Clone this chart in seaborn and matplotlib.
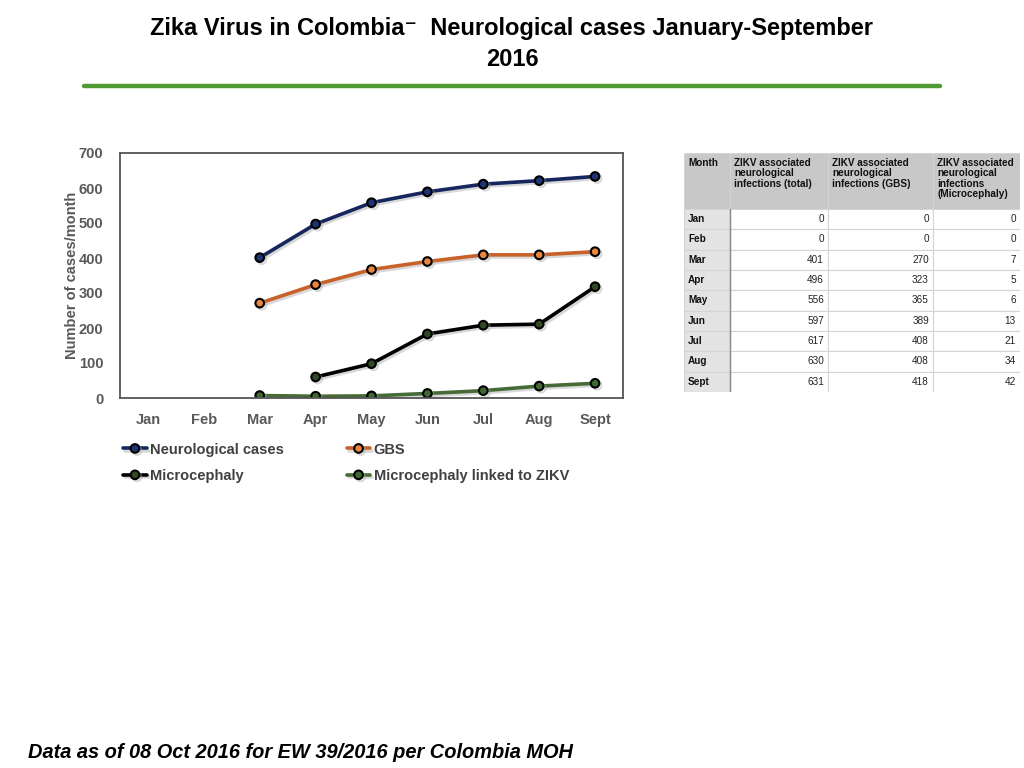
import matplotlib
matplotlib.use("Agg")
import matplotlib.pyplot as plt
import matplotlib.patheffects as pe
from matplotlib.patches import Rectangle
import seaborn as sns
import pandas as pd
import numpy as np

months = ["Jan", "Feb", "Mar", "Apr", "May", "Jun", "Jul", "Aug", "Sept"]
neuro = [np.nan, np.nan, 401, 497, 558, 589, 611, 621, 633]
gbs = [np.nan, np.nan, 271, 324, 367, 390, 409, 409, 418]
micro = [np.nan, np.nan, np.nan, 60, 98, 183, 208, 211, 318]
micro_zikv = [np.nan, np.nan, 7, 5, 6, 13, 21, 34, 42]

series_names = ["Neurological cases", "GBS", "Microcephaly", "Microcephaly linked to ZIKV"]
line_colors = ["#15275e", "#c8622a", "#000000", "#466b34"]
face_colors = ["#1d3476", "#e9873e", "#2f4a25", "#3f6a33"]

tbl_header = ["Month", "ZIKV associated\nneurological\ninfections (total)",
              "ZIKV associated\nneurological\ninfections (GBS)",
              "ZIKV associated\nneurological\ninfections\n(Microcephaly)"]
tbl_total = [0, 0, 401, 496, 556, 597, 617, 630, 631]
tbl_gbs = [0, 0, 270, 323, 365, 389, 408, 408, 418]
tbl_micro = [0, 0, 7, 5, 6, 13, 21, 34, 42]

sns.set_theme(style="white")
plt.rcParams['font.family'] = ['Liberation Sans', 'DejaVu Sans']

df = pd.DataFrame({"month": months * 4,
                   "x": list(range(len(months))) * 4,
                   "value": neuro + gbs + micro + micro_zikv,
                   "series": sum([[s] * len(months) for s in series_names], [])})

fig = plt.figure(figsize=(10.24, 7.68), dpi=100)
ax = fig.add_axes([120/1024, 1-398/768, 503/1024, 245/768])

shadow = [pe.SimpleLineShadow(offset=(1.5, -1.5), shadow_color="#aaaaaa", alpha=0.45), pe.Normal()]
for name, lc, fc in zip(series_names, line_colors, face_colors):
    sub = df[df.series == name].dropna()
    sns.lineplot(data=sub, x="x", y="value", ax=ax, color=lc, linewidth=2.6,
                 marker="o", markersize=6.2, markerfacecolor=fc, markeredgecolor="#000000",
                 markeredgewidth=1.5, label=name, path_effects=shadow, legend=False)

ax.set_xlim(-0.5, len(months) - 0.5)
ax.set_ylim(0, 700)
ax.set_xticks(range(len(months)))
ax.set_xticklabels(months)
ax.set_yticks(range(0, 701, 100))
ax.set_xlabel("")
ax.set_ylabel("Number of cases/month", fontsize=10.5, fontweight="bold", color="#595959", labelpad=0)
for lbl in ax.get_xticklabels() + ax.get_yticklabels():
    lbl.set_fontweight("bold")
    lbl.set_color("#595959")
    lbl.set_fontsize(10.5)
ax.tick_params(axis="x", length=0, pad=11)
ax.tick_params(axis="y", length=0, pad=12)
ax.grid(False)
for sp in ax.spines.values():
    sp.set_color("#555555")
    sp.set_linewidth(1.3)

handles, labels = ax.get_legend_handles_labels()
order = [0, 2, 1, 3]
leg = ax.legend([handles[i] for i in order], [labels[i] for i in order], ncol=2,
                loc="upper left", bbox_to_anchor=(-0.005, -0.158), frameon=False,
                fontsize=10.5, handlelength=1.6, handletextpad=0.25, columnspacing=4.3,
                labelspacing=0.85, borderaxespad=0)
for t in leg.get_texts():
    t.set_color("#404040")
    t.set_fontweight("bold")

# Title and rule
fig.text(0.5, 1-28/768, "Zika Virus in Colombia\u207b  Neurological cases January-September",
         ha="center", va="center", fontsize=17, fontweight="bold", color="#000000")
fig.text(0.5, 1-60/768, "2016", ha="center", va="center", fontsize=17, fontweight="bold",
         color="#000000")
fig.add_artist(plt.Line2D([84/1024, 940/1024], [1-86/768, 1-86/768], color="#4f9a34", linewidth=3.2))

fig.text(28/1024, 1-752/768, "Data as of 08 Oct 2016 for EW 39/2016 per Colombia MOH",
         ha="left", va="center", fontsize=14.4, fontweight="bold", style="italic", color="#000000")

# Table (drawn in pixel-like layout coordinates)
tax = fig.add_axes([684/1024, 1-392/768, 336/1024, 239/768])
tax.set_xlim(0, 336)
tax.set_ylim(239, 0)
tax.axis("off")
col_w = [46, 98, 105, 87]
col_x = np.cumsum([0] + col_w)
hdr_h = 56
row_h = (239 - hdr_h) / len(months)
line_c = "#d4d4d4"
for j in range(4):
    tax.add_patch(Rectangle((col_x[j], 0), col_w[j], hdr_h, facecolor="#c8c8c8",
                            edgecolor=line_c, linewidth=0.8))
    tax.text(col_x[j] + 4, 5, tbl_header[j], ha="left", va="top", fontsize=7.2,
             fontweight="bold", color="#111111", linespacing=1.05)
rows = list(zip(months, tbl_total, tbl_gbs, tbl_micro))
for i, row in enumerate(rows):
    y0 = hdr_h + i * row_h
    for j in range(4):
        fc = "#e3e3e3" if j == 0 else "#ffffff"
        tax.add_patch(Rectangle((col_x[j], y0), col_w[j], row_h, facecolor=fc,
                                edgecolor=line_c, linewidth=0.8))
        if j == 0:
            tax.text(col_x[j] + 4, y0 + row_h / 2, row[j], ha="left", va="center",
                     fontsize=7.2, fontweight="bold", color="#111111")
        else:
            tax.text(col_x[j + 1] - 4, y0 + row_h / 2, str(row[j]), ha="right", va="center",
                     fontsize=7.2, color="#222222")
tax.plot([col_w[0], col_w[0]], [hdr_h, 239], color="#888888", linewidth=1.0)

fig.savefig("out.png", dpi=100)
